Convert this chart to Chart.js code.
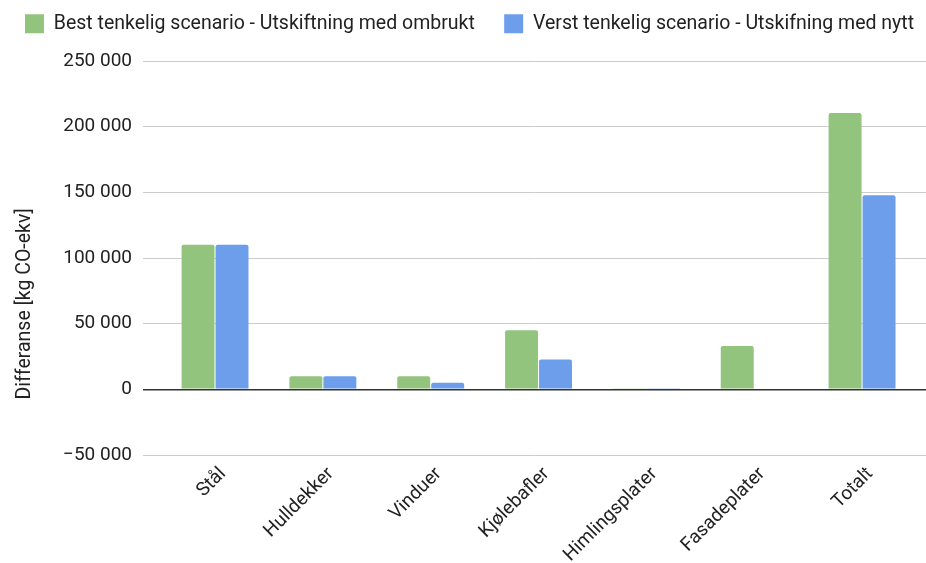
<!DOCTYPE html>
<html>
<head>
<meta charset="utf-8">
<script src="https://cdn.jsdelivr.net/npm/chart.js@4/dist/chart.umd.min.js"></script>
<style>
  html, body { margin: 0; padding: 0; background: #fff; }
  #wrap { width: 926px; height: 563px; position: relative; }
</style>
</head>
<body>
<div id="wrap"><canvas id="c"></canvas></div>
<script>
const categories = ['Stål', 'Hulldekker', 'Vinduer', 'Kjølebafler', 'Himlingsplater', 'Fasadeplater', 'Totalt'];
const bestValues = [110000, 10000, 10000, 45000, 800, 33000, 210500];
const worstValues = [110000, 10000, 5000, 22700, 800, 0, 147800];
const seriesNames = ['Best tenkelig scenario - Utskiftning med ombrukt', 'Verst tenkelig scenario - Utskifning med nytt'];
const yTicks = [-50000, 0, 50000, 100000, 150000, 200000, 250000];
const yTitle = 'Differanse [kg CO-ekv]';

const FONT = 'Roboto, "Liberation Sans", Arial, sans-serif';

function fmt(v) {
  const s = String(Math.abs(v)).replace(/\B(?=(\d{3})+(?!\d))/g, ' ');
  return (v < 0 ? '\u2212' : '') + s;
}

const legendPad = {
  id: 'legendPad',
  beforeUpdate(chart) {
    const lg = chart.legend;
    if (lg && !lg._patched) {
      const orig = lg.fit;
      lg.fit = function () { orig.call(this); this.height += 17.5; };
      lg._patched = true;
    }
  }
};

new Chart(document.getElementById('c'), {
  type: 'bar',
  data: {
    datasets: [
      {
        label: seriesNames[0],
        data: categories.map((c, i) => ({ x: i, y: bestValues[i] })),
        backgroundColor: '#93c47d',
        borderRadius: 2,
        borderSkipped: 'bottom'
      },
      {
        label: seriesNames[1],
        data: categories.map((c, i) => ({ x: i, y: worstValues[i] })),
        backgroundColor: '#6d9eeb',
        borderRadius: 2,
        borderSkipped: 'bottom'
      }
    ]
  },
  options: {
    responsive: true,
    maintainAspectRatio: false,
    animation: false,
    categoryPercentage: 0.63,
    barPercentage: 0.97,
    layout: { padding: { top: 4, right: 0, bottom: 0, left: 15 } },
    plugins: {
      legend: {
        position: 'top',
        align: 'start',
        labels: {
          boxWidth: 19,
          boxHeight: 19,
          padding: 10,
          color: '#222',
          font: { family: FONT, size: 19.5 },
          generateLabels(chart) {
            const items = Chart.defaults.plugins.legend.labels.generateLabels(chart);
            return items.map((it, i) => (i === 0 ? Object.assign({}, it, { text: it.text + '    ' }) : it));
          }
        }
      },
      tooltip: { enabled: false }
    },
    scales: {
      x: {
        type: 'linear',
        min: -0.668,
        max: 6.593,
        offset: false,
        grid: { display: false },
        border: { display: false },
        afterFit(s) { s.height = 108; },
        ticks: {
          stepSize: 1,
          includeBounds: false,
          autoSkip: false,
          minRotation: 45,
          maxRotation: 45,
          padding: 0,
          labelOffset: 8,
          color: '#222',
          font: { family: FONT, size: 19 },
          callback: (v) => (Number.isInteger(v) && categories[v] !== undefined) ? categories[v] : ''
        }
      },
      y: {
        min: yTicks[0],
        max: yTicks[yTicks.length - 1],
        afterFit(s) { s.width = 128; },
        afterBuildTicks(s) { s.ticks = yTicks.map(v => ({ value: v })); },
        grid: {
          drawTicks: false,
          color: (ctx) => (ctx.tick && ctx.tick.value === 0) ? '#333' : '#cccccc',
          lineWidth: (ctx) => (ctx.tick && ctx.tick.value === 0) ? 1.6 : 1
        },
        border: { display: false },
        ticks: {
          padding: 11,
          color: '#222',
          font: { family: FONT, size: 19 },
          callback: (v) => fmt(v)
        },
        title: {
          display: true,
          text: yTitle + '                   ',
          color: '#222',
          padding: { top: 0, bottom: 0 },
          font: { family: FONT, size: 19.5, lineHeight: 1.0 }
        }
      }
    }
  },
  plugins: [legendPad]
});
</script>
</body>
</html>
